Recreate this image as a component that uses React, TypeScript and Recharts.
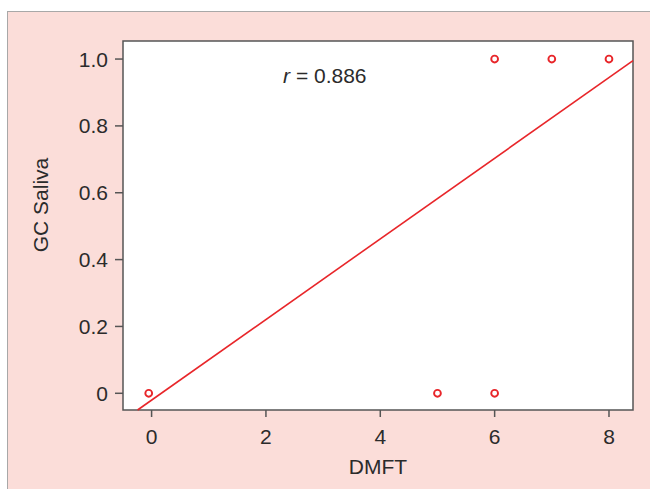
import {
  ReferenceArea,
  ReferenceDot,
  ReferenceLine,
  Scatter,
  ScatterChart,
  XAxis,
  YAxis,
} from "recharts";

const dmft = [-0.05, 5, 6, 6, 7, 8];
const gcSaliva = [0, 0, 0, 1, 1, 1];
const fitStart = { x: -0.245, y: -0.05 };
const fitEnd = { x: 8.42, y: 0.995 };
const xTicks = [0, 2, 4, 6, 8];
const yTicks = [0, 0.2, 0.4, 0.6, 0.8, 1.0];
const rLabel = "0.886";

const X_DOMAIN: [number, number] = [-0.5, 8.42];
const Y_DOMAIN: [number, number] = [-0.05, 1.054];

const RED = "#e8262a";
const INK = "#2b2b2b";
const AXIS = "#555";
const FONT = "'Liberation Sans', Arial, sans-serif";
const FS = 21;

const points = dmft.map((x, i) => ({ x, y: gcSaliva[i] }));

function OpenDot(props: { cx?: number; cy?: number }) {
  const { cx, cy } = props;
  if (cx === undefined || cy === undefined) return null;
  return <circle cx={cx} cy={cy} r={3.4} fill="#fff" stroke={RED} strokeWidth={1.9} />;
}

export default function App() {
  return (
    <div style={{ position: "fixed", left: 0, top: 0, width: 650, height: 489, background: "#fff" }}>
      <div
        style={{
          position: "absolute", left: 7, top: 11, right: 0, bottom: 0,
          background: "#fbddd9", borderLeft: "1px solid #a8a8a8", borderTop: "1px solid #a8a8a8",
        }}
      />
      <div style={{ position: "absolute", left: 0, top: 0 }}>
        <ScatterChart
          width={650} height={489}
          margin={{ top: 41, right: 17, bottom: 9, left: 23 }}
          style={{ fontFamily: FONT }}
        >
          <XAxis
            type="number" dataKey="x" domain={X_DOMAIN} ticks={xTicks} allowDataOverflow
            axisLine={false} tickLine={{ stroke: AXIS, strokeWidth: 1.5 }} tickSize={7} tickMargin={12}
            tick={{ fontSize: FS, fill: INK }} height={70}
            label={{ value: "DMFT", position: "insideBottom", offset: 6, fontSize: FS, fill: INK }}
          />
          <YAxis
            type="number" dataKey="y" domain={Y_DOMAIN} ticks={yTicks} allowDataOverflow
            tickFormatter={(v: number) => (v === 0 ? "0" : v.toFixed(1))}
            axisLine={false} tickLine={{ stroke: AXIS, strokeWidth: 1.5 }} tickSize={8} tickMargin={7}
            tick={{ fontSize: FS, fill: INK }} width={100}
            label={{
              content: ({ viewBox }: any) => (
                <text
                  x={viewBox.x + 17} y={205}
                  transform={`rotate(-90, ${viewBox.x + 17}, 205)`}
                  textAnchor="middle" dominantBaseline="central"
                  fontSize={FS} fill={INK} fontFamily={FONT}
                >
                  GC Saliva
                </text>
              ),
            }}
          />
          <ReferenceArea
            x1={X_DOMAIN[0]} x2={X_DOMAIN[1]} y1={Y_DOMAIN[0]} y2={Y_DOMAIN[1]}
            fill="#fff" fillOpacity={1} stroke={AXIS} strokeWidth={1.5}
          />
          <ReferenceLine
            segment={[fitStart, fitEnd]} stroke={RED} strokeWidth={1.6} ifOverflow="visible"
          />
          <Scatter data={points} shape={<OpenDot />} isAnimationActive={false} />
          <ReferenceDot
            x={3.03} y={0.96} r={0} ifOverflow="visible"
            label={{
              content: ({ viewBox }: any) => (
                <text
                  x={viewBox.x} y={viewBox.y + 11}
                  textAnchor="middle" fontSize={FS} fill={INK} fontFamily={FONT}
                >
                  <tspan fontStyle="italic">r</tspan>
                  <tspan> = {rLabel}</tspan>
                </text>
              ),
            }}
          />
        </ScatterChart>
      </div>
    </div>
  );
}
